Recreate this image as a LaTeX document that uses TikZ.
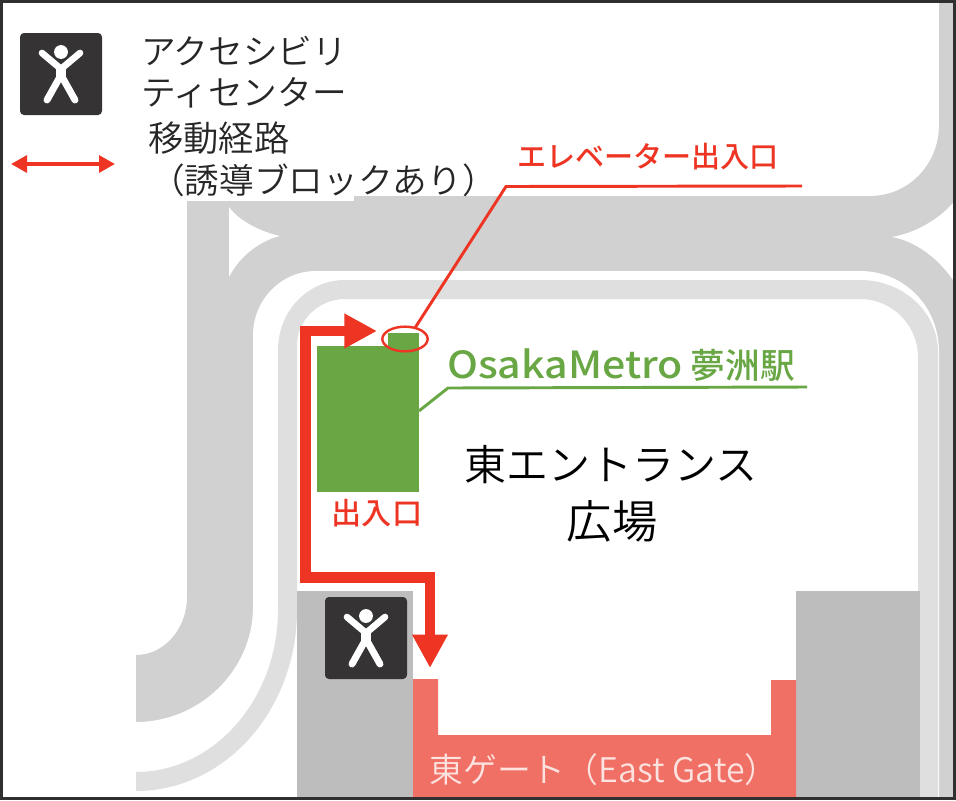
\documentclass[tikz,border=0pt]{standalone}
\usepackage{fontspec}
\setmainfont{Noto Sans CJK JP}[UprightFont=* DemiLight,BoldFont=* Medium]
\newfontfamily\widelatin{Noto Sans CJK JP Medium}[FakeStretch=1.1]
\usetikzlibrary{arrows.meta,shapes.geometric}
\definecolor{roaddark}{HTML}{D1D1D1}
\definecolor{roadlight}{HTML}{DFDFDF}
\definecolor{blockgray}{HTML}{BDBDBD}
\definecolor{gatepink}{HTML}{F07066}
\definecolor{gatetext}{HTML}{FCE3E0}
\definecolor{metrogreen}{HTML}{68A744}
\definecolor{routered}{HTML}{EE3524}
\definecolor{icondark}{HTML}{353334}
\definecolor{framedark}{HTML}{303030}
\newcommand{\fs}[1]{\fontsize{#1}{#1}\selectfont}
\tikzset{
  x=0.75pt,y=-0.75pt,
  plain/.style={inner sep=0pt,outer sep=0pt,text=black!85},
  legendtext/.style={plain,font=\fs{26pt},anchor=west},
  squaretext/.style={plain,font=\fs{31.5pt},text=black},
  redlabel/.style={plain,font=\bfseries\fs{21.8pt},text=routered},
  greenlabel/.style={plain,font=\bfseries\fs{26pt},text=metrogreen},
  gatelabel/.style={plain,font=\fs{25.4pt},text=gatetext},
  iconbox/.style={fill=icondark,rounded corners=3pt,minimum size=61.5pt,inner sep=0pt,outer sep=0pt},
  greenblock/.style={fill=metrogreen,inner sep=0pt,outer sep=0pt},
  redleader/.style={draw=routered,line width=2.2pt,line join=miter},
  greenleader/.style={draw=metrogreen,line width=2.2pt,line join=miter},
  routeline/.style={draw=routered,line width=8pt,line join=miter,
    {Triangle[length=24.5pt,width=24.5pt]}-{Triangle[length=25pt,width=25pt]}},
  legendarrow/.style={draw=routered,line width=3.4pt,
    {Triangle[length=12pt,width=12.5pt]}-{Triangle[length=12pt,width=12.5pt]}},
  figure/.pic={
    \fill[white] (0,-22) circle[radius=5.2pt];
    \draw[white,line width=5pt,line cap=round,line join=round] (-19,-21) -- (0,-5) -- (19,-21);
    \draw[white,line width=8pt] (0,-9) -- (0,7);
    \draw[white,line width=5.2pt,line cap=round,line join=round] (-14,26) -- (0,1) -- (14,26);
  }
}
\begin{document}
\begin{tikzpicture}
\useasboundingbox (0,0) rectangle (956,800);
\fill[white] (0,0) rectangle (956,800);
% dark road
\fill[roaddark] (187,201) -- (354,201) -- (354,196) -- (870,196)
  .. controls (908,196) and (939,165) .. (939,125) -- (939,2) -- (953,2) -- (953,798)
  -- (136,798) -- (136,655) .. controls (164,655) and (187,629) .. (187,597) -- cycle;
\fill[white] (136,722) .. controls (200,722) and (253,670) .. (253,607) -- (253,335)
  .. controls (253,300) and (281,271) .. (316,271) -- (860,271)
  .. controls (904,271) and (939,306) .. (939,352) -- (939,798) -- (136,798) -- cycle;
\fill[white] (229,207) .. controls (240,222) and (262,232) .. (280,236)
  .. controls (262,240) and (240,255) .. (229,277) -- cycle;
\fill[white] (892,237) .. controls (915,233) and (938,220) .. (953,203) -- (953,280)
  .. controls (938,258) and (915,241) .. (892,237) -- cycle;
% light walkway
\fill[roadlight] (136,772) .. controls (214,772) and (278,699) .. (278,610) -- (278,350)
  .. controls (278,311) and (308,280) .. (345,280) -- (860,280)
  .. controls (903,280) and (938,312) .. (938,352) -- (938,798) -- (918,798) -- (918,357)
  .. controls (918,325) and (892,299) .. (860,299) -- (345,299)
  .. controls (319,299) and (297,320) .. (297,345) -- (297,610)
  .. controls (297,710) and (225,791) .. (136,791) -- cycle;
% blocks
\fill[blockgray] (297,591) rectangle (413,798);
\fill[blockgray] (796,591) rectangle (920,798);
\fill[gatepink] (413,798) -- (413,679) -- (438,679) -- (438,735) -- (771,735) -- (771,680) -- (796,680) -- (796,798) -- cycle;
% legend
\node[iconbox] (iconlegend) at (61,74) {};
\pic at (iconlegend) {figure};
\coordinate (legendL) at (11,164);
\coordinate (legendR) at (115,164);
\draw[legendarrow] (legendL) -- (legendR);
\node[legendtext] (legend1) at (141,51) {アクセシビリ};
\node[legendtext] (legend2) at (141,93) {ティセンター};
\node[legendtext,font=\fs{26.5pt}] (legend3) at (148,138) {移動経路};
\node[legendtext] (legend4) at (150,180) {（誘導ブロックあり）};
% green station
\node[greenblock,minimum width=76.5pt,minimum height=110pt] (station) at (368,419) {};
\node[greenblock,minimum width=23.25pt,minimum height=9.75pt] (stationtop) at (403.5,339.5) {};
\coordinate (greenknee) at (448,388);
\coordinate (greenend) at (807,387);
\draw[greenleader] (station.9.5) -- (greenknee) -- (greenend);
\node[greenlabel] (stationlabel) at (621,365) {{\widelatin\mdseries\fs{28pt}OsakaMetro} 夢洲駅};
% elevator
\node[draw=routered,line width=1.8pt,ellipse,minimum width=34pt,minimum height=18.5pt,inner sep=0pt,outer sep=0pt] (elevring) at (405,339) {};
\coordinate (redknee) at (506,186.5);
\coordinate (redend) at (802,186);
\draw[redleader] (elevring.48) -- (redknee) -- (redend);
\node[redlabel] (elevlabel) at (648,157) {エレベーター出入口};
\node[redlabel,font=\bfseries\fs{22.6pt}] (entrylabel) at (377,513) {出入口};
% route
\coordinate (routeA) at (377,331);
\coordinate (routeB) at (305.5,331);
\coordinate (routeC) at (305.5,577.5);
\coordinate (routeD) at (430,577.5);
\coordinate (routeE) at (430,668);
\draw[routeline] (routeA) -- (routeB) -- (routeC) -- (routeD) -- (routeE);
% icon
\node[iconbox] (iconmap) at (366,638) {};
\pic at (iconmap) {figure};
% labels
\node[squaretext] (plaza1) at (611,465) {東エントランス};
\node[squaretext,font=\fs{34pt}] (plaza2) at (612,521) {広場};
\node[gatelabel] (gate) at (604,770) {東ゲート（East Gate）};
% frame
\draw[framedark,line width=2.2pt] (1.5,1.5) rectangle (954.5,798.5);
\end{tikzpicture}
\end{document}
